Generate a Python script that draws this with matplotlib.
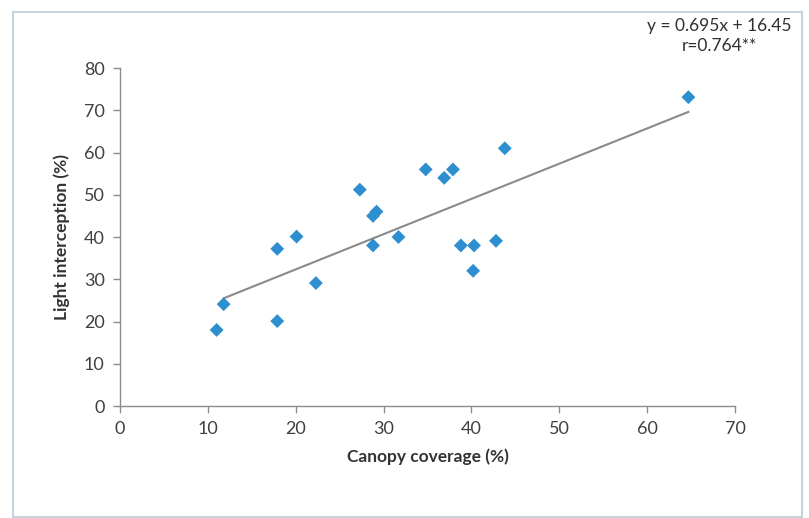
import numpy as np
import matplotlib.pyplot as plt
from matplotlib.patches import Rectangle

# canopy coverage (%) vs light interception (%)
canopy = [11.0, 11.8, 17.9, 17.9, 20.1, 22.3, 27.3, 28.8, 29.2, 28.8, 31.7,
          34.8, 36.9, 37.9, 38.8, 40.3, 40.2, 42.8, 43.8, 64.7]
light = [18.0, 24.1, 37.2, 20.1, 40.1, 29.1, 51.2, 45.0, 46.0, 38.0, 40.0,
         56.0, 54.0, 56.0, 38.0, 38.0, 32.0, 39.1, 61.0, 73.1]

eq_text = "y = 0.695x + 16.45"
r_text = "r=0.764**"

plt.rcParams['font.family'] = ['Lato', 'DejaVu Sans']

fig = plt.figure(figsize=(8.09, 5.18), dpi=100)
fig.patches.append(Rectangle((13 / 809, 1 / 518), 789 / 809, 505 / 518,
                             transform=fig.transFigure, fill=False,
                             edgecolor='#c5d3dc', linewidth=1.5))

ax = fig.add_axes([0.1483, 0.2162, 0.7602, 0.6525])

ax.scatter(canopy, light, marker='D', s=50, color='#2d8fd0', zorder=3,
           edgecolors='none')

# linear trendline
x = np.array(canopy)
coef = np.polyfit(x, light, 1)
xs = np.array([x.min() + 0.8, x.max()])
ax.plot(xs, np.polyval(coef, xs), color='#8a8a8a', linewidth=1.5, zorder=2)

ax.set_xlim(0, 70)
ax.set_ylim(0, 80)
ax.set_xticks(range(0, 71, 10))
ax.set_yticks(range(0, 81, 10))
for side in ['top', 'right']:
    ax.spines[side].set_visible(False)
for side in ['left', 'bottom']:
    ax.spines[side].set_color('#8c8c8c')
    ax.spines[side].set_linewidth(1.0)
ax.tick_params(colors='#8c8c8c', labelcolor='#404040', labelsize=13,
               length=5, width=1.0)
ax.tick_params(axis='x', pad=6)
ax.tick_params(axis='y', pad=6)

ax.set_xlabel('Canopy coverage (%)', fontsize=12.5, fontweight='bold',
              color='#333333', labelpad=8)
ax.set_ylabel('Light interception (%)', fontsize=12.5, fontweight='bold',
              color='#333333', labelpad=10)

fig.text(719 / 809, 1 - 26 / 518, eq_text, ha='center', va='center',
         fontsize=12.5, color='#303030')
fig.text(719 / 809, 1 - 46 / 518, r_text, ha='center', va='center',
         fontsize=12.5, color='#303030')

fig.savefig('out.png', dpi=100)
